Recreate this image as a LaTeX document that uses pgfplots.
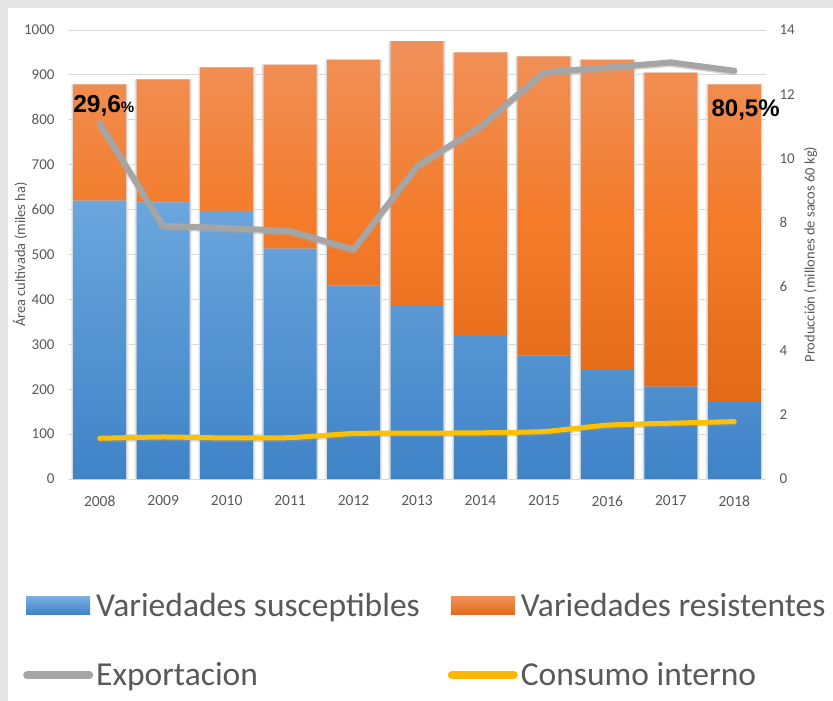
\documentclass[border=0pt]{standalone}
\usepackage{pgfplots}
\usepackage{pgfplotstable}
\pgfplotsset{compat=1.18}
\usepackage{fontspec}
\setmainfont{Carlito}
\newfontfamily\arialfont{Liberation Sans}
\definecolor{txtgray}{HTML}{595959}
\definecolor{gridgray}{HTML}{D9D9D9}
\definecolor{blueTop}{HTML}{6BA6DD}
\definecolor{blueBot}{HTML}{3F83C7}
\definecolor{orTop}{HTML}{F0915A}
\definecolor{orMid}{HTML}{F37B2A}
\definecolor{orBot}{HTML}{E36A17}
\definecolor{expgray}{HTML}{A5A5A5}
\definecolor{consy}{HTML}{FFC000}

\pgfplotstableread{
x blue orange total exp cons
0 620 259 879 11.09 1.27
1 616 274 890 7.89 1.31
2 597 320 917 7.83 1.28
3 513 410 923 7.73 1.29
4 431 503 934 7.16 1.42
5 385 590 975 9.75 1.43
6 319 631 950 10.99 1.44
7 275 666 941 12.68 1.48
8 243 691 934 12.83 1.68
9 206 699 905 12.99 1.74
10 171 708 879 12.73 1.79
}\data

\pgfplotsset{
  base/.style={
    at={(68pt,-479pt)}, anchor=south west,
    scale only axis, width=698pt, height=449pt,
    xmin=-0.5, xmax=10.5,
    axis line style={draw=none},
    major tick length=0pt,
    /pgf/number format/assume math mode=true,
    /pgf/number format/1000 sep={},
    tick label style={text=txtgray, font=\fontsize{15}{15}\selectfont},
    clip=false,
  }
}

\begin{document}
\begin{tikzpicture}
\useasboundingbox (0pt,0pt) rectangle (833pt,-701pt);
\fill[black!10] (0pt,0pt) rectangle (833pt,-701pt);
\fill[white] (8pt,-8pt) rectangle (833pt,-701pt);

% shadow bars
\begin{axis}[base, ymin=0, ymax=1000, xtick=\empty, ytick=\empty]
\addplot[ybar, bar shift=0pt, bar width=0.91, fill=black!6, draw=none] table[x=x, y=total] {\data};
\addplot[ybar, bar shift=0pt, bar width=0.875, fill=black!14, draw=none] table[x=x, y=total] {\data};
\end{axis}

% main bars (left axis)
\begin{axis}[base,
  ybar stacked, bar width=0.835,
  ymin=0, ymax=1000, ytick={0,100,...,1000},
  ymajorgrids, grid style={gridgray, line width=0.9pt},
  xtick={0,...,10},
  xticklabels={2008,2009,2010,2011,2012,2013,2014,2015,2016,2017,2018},
  xticklabel style={yshift=-13pt, font=\fontsize{15.5}{15.5}\selectfont},
  yticklabel style={xshift=-10pt},
  ylabel={Área cultivada (miles ha)},
  every axis y label/.style={at={(axis description cs:-0.0688,0.5)}, rotate=90, anchor=center, font=\fontsize{14.5}{14.5}\selectfont, text=txtgray},
]
\addplot[draw=none, top color=blueTop, bottom color=blueBot] table[x=x, y=blue] {\data};
\addplot[draw=none, top color=orTop, bottom color=orBot, middle color=orMid] table[x=x, y=orange] {\data};
\coordinate (p1) at (axis cs:-0.42,817);
\coordinate (p2) at (axis cs:9.64,808);
\end{axis}

% lines (right axis)
\begin{axis}[base,
  ymin=0, ymax=14, ytick={0,2,...,14},
  xtick=\empty,
  yticklabel pos=right,
  yticklabel style={xshift=10pt},
  ylabel={Producción (millones de sacos 60 kg)},
  every axis y label/.style={at={(axis description cs:1.064,0.5)}, rotate=90, anchor=center, font=\fontsize{14.5}{14.5}\selectfont, text=txtgray},
  legend style={at={(axis description cs:-0.0645,-0.247)}, anchor=north west,
    draw=none, fill=none, legend columns=2, inner sep=0pt,
    font=\fontsize{33.5}{36}\selectfont, text=txtgray,
    nodes={inner sep=3pt},
    /tikz/every even column/.append style={column sep=25pt},
    row sep=39pt},
  legend cell align=left,
]
\addlegendimage{legend image code/.code={\path[draw=none,fill=none] (0pt,-9pt) rectangle (70pt,9pt); \fill[draw=none, top color=blueTop!90!white, bottom color=blueBot] (3pt,-9pt) rectangle (67pt,9pt);}}
\addlegendentry{Variedades susceptibles}
\addlegendimage{legend image code/.code={\path[draw=none,fill=none] (0pt,-9pt) rectangle (70pt,9pt); \fill[draw=none, top color=orTop, bottom color=orBot] (3pt,-9pt) rectangle (67pt,9pt);}}
\addlegendentry{Variedades resistentes}
\addplot[black!35, opacity=0.5, line width=6pt, line join=round, line cap=round, forget plot, transform canvas={yshift=-1.5pt}]
  table[x=x, y=exp] {\data};
\addplot[expgray, line width=6pt, line join=round, line cap=round,
  legend image code/.code={\path[draw=none,fill=none] (0pt,-9pt) rectangle (70pt,9pt); \draw[expgray, line width=8pt, line cap=round] (4pt,0pt) -- (66pt,0pt);}]
  table[x=x, y=exp] {\data};
\addlegendentry{Exportacion}
\addplot[black!40, opacity=0.4, line width=5pt, line join=round, line cap=round, smooth, tension=0.3, forget plot, transform canvas={yshift=-1.5pt}]
  table[x=x, y=cons] {\data};
\addplot[consy, line width=5pt, line join=round, line cap=round, smooth, tension=0.3,
  legend image code/.code={\path[draw=none,fill=none] (0pt,-9pt) rectangle (70pt,9pt); \draw[consy!85!orange, line width=8pt, line cap=round] (4pt,0pt) -- (66pt,0pt);}]
  table[x=x, y=cons] {\data};
\addlegendentry{Consumo interno}
\end{axis}
\node[anchor=base west, inner sep=0pt, text=black, font=\arialfont\bfseries\fontsize{24.5}{24.5}\selectfont] at (p1) {29,6{\fontsize{15}{15}\selectfont\%}};
\node[anchor=base west, inner sep=0pt, text=black, font=\arialfont\bfseries\fontsize{24}{24}\selectfont] at (p2) {80,5\%};
\end{tikzpicture}
\end{document}
